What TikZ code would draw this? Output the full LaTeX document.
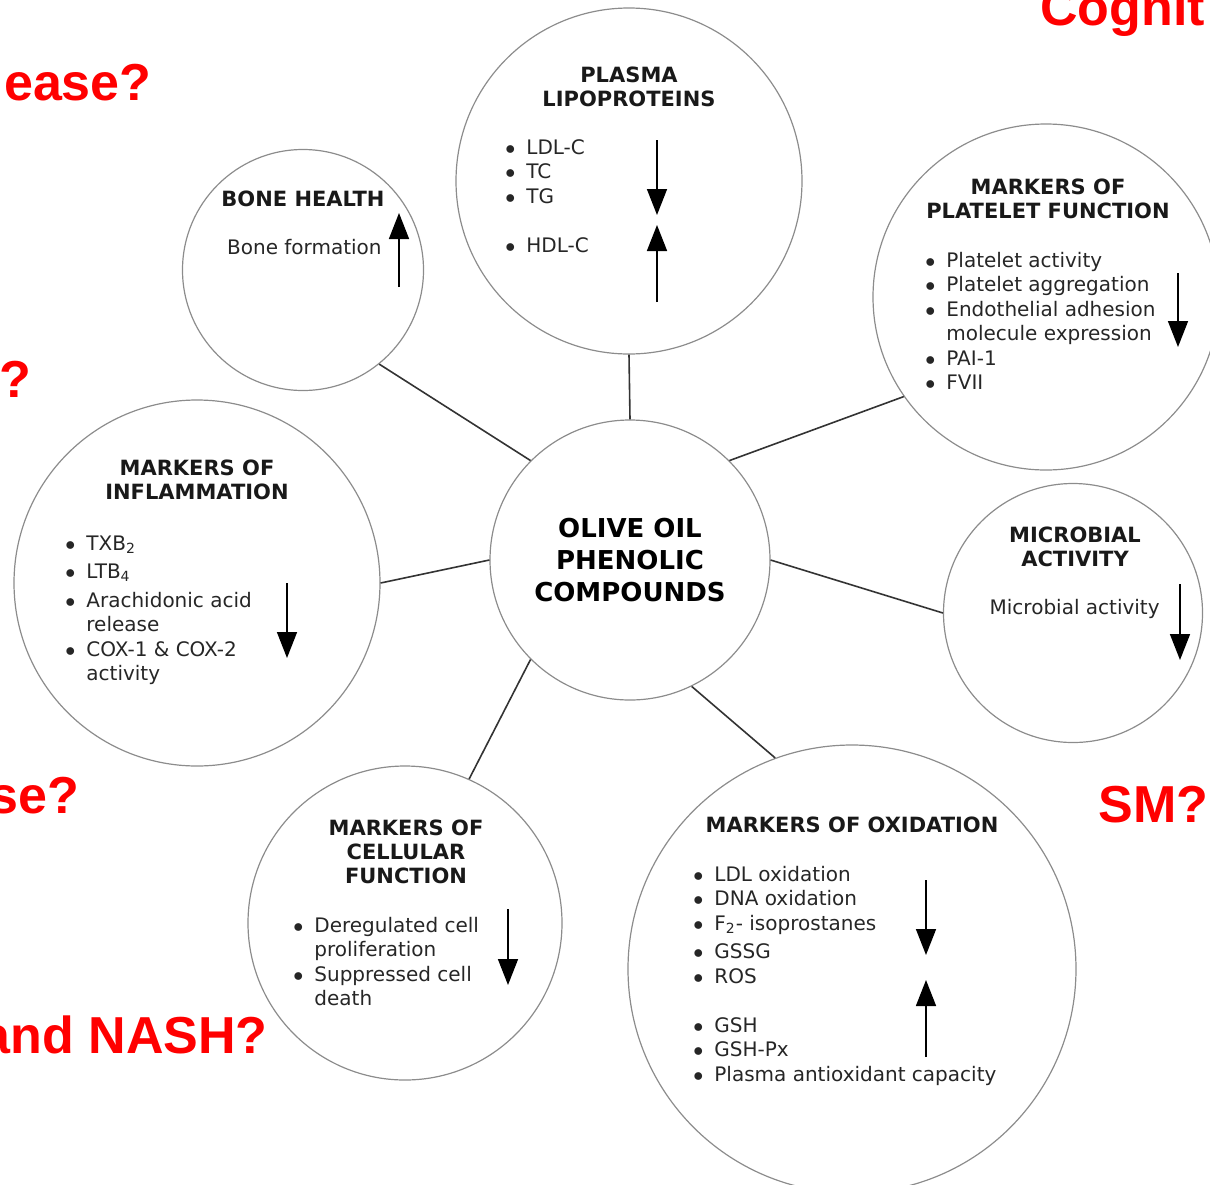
\documentclass[tikz,border=0pt]{standalone}
\usepackage{fontspec}
\setmainfont{DejaVu Sans}
\newfontfamily\alertfont{Liberation Sans}
\usetikzlibrary{arrows.meta}
\tikzset{
    bubble/.style={circle, draw=black!45, line width=0.6pt, inner sep=0pt},
    link/.style={draw=black!80, line width=0.8pt},
    head/.style={font=\fontsize{10.5}{12}\selectfont\bfseries, align=center, inner sep=0pt, text=black!90},
    body/.style={font=\fontsize{10}{12.25}\selectfont, inner sep=0pt, text=black!85},
    trend/.style={black, line width=0.8pt, -{Triangle[length=13pt,width=10pt]}},
    query/.style={font=\alertfont\fontsize{26}{30}\selectfont\bfseries, text=red, inner sep=0pt},
}
\newcommand{\dotitem}{$\bullet$}

\begin{document}
\begin{tikzpicture}[x=0.5pt,y=-0.5pt]
\useasboundingbox (0,0) rectangle (1210,1184);

\node[bubble, minimum size=140pt, font=\fontsize{13}{16}\selectfont\bfseries, align=center] (core) at (630,560) {OLIVE OIL\\PHENOLIC\\COMPOUNDS};
\node[bubble, minimum size=173pt] (plasma) at (629,181) {};
\node[bubble, minimum size=120.5pt] (bone) at (303,270) {};
\node[bubble, minimum size=173pt] (platelet) at (1046,297) {};
\node[bubble, minimum size=183pt] (inflam) at (197,583) {};
\node[bubble, minimum size=129.5pt] (microbial) at (1073,613) {};
\node[bubble, minimum size=157pt] (cellular) at (405,923) {};
\node[bubble, minimum size=224pt] (oxidation) at (852,969) {};

\draw[link] (core.135) -- (bone.309);
\draw[link] (core.90) -- (plasma.270);
\draw[link] (core.45) -- (platelet.215);
\draw[link] (core.180) -- (inflam.0);
\draw[link] (core.0) -- (microbial.180);
\draw[link] (core.225) -- (cellular.66);
\draw[link] (core.296) -- (oxidation.110);

\node[head, anchor=north] (plasmahead) at (629,67) {PLASMA\\LIPOPROTEINS};
\node[body, anchor=base west] (plasmalist) at (505,154) {\begin{tabular}[t]{@{}l@{\hspace{5.5pt}}l@{}}\dotitem & LDL-C\\ \dotitem & TC\\ \dotitem & TG\\[12.25pt] \dotitem & HDL-C\end{tabular}};
\draw[trend] (657,140) -- (657,215);
\draw[trend] (657,302) -- (657,225);

\node[head, anchor=north] (bonehead) at (303,191) {BONE HEALTH};
\node[body, anchor=base east] (bonetext) at (382,254) {Bone formation};
\draw[trend] (399,287) -- (399,213);

\node[head, anchor=north] (platehead) at (1048,179) {MARKERS OF\\PLATELET FUNCTION};
\node[body, anchor=base west] (platelist) at (925,267) {\begin{tabular}[t]{@{}l@{\hspace{5.5pt}}l@{}}\dotitem & Platelet activity\\ \dotitem & Platelet aggregation\\ \dotitem & Endothelial adhesion\\ & molecule expression\\ \dotitem & PAI-1\\ \dotitem & FVII\end{tabular}};
\draw[trend] (1178,273) -- (1178,347);

\node[head, anchor=north] (inflamhead) at (197,460) {MARKERS OF\\INFLAMMATION};
\node[body, anchor=base west] (inflamlist) at (65,550) {\begin{tabular}[t]{@{}l@{\hspace{5.5pt}}l@{}}\dotitem & TXB\textsubscript{2}\\[2pt] \dotitem & LTB\textsubscript{4}\\[2pt] \dotitem & Arachidonic acid\\ & release\\ \dotitem & COX-1 \& COX-2\\ & activity\end{tabular}};
\draw[trend] (287,583) -- (287,658);

\node[head, anchor=north] (microhead) at (1075,527) {MICROBIAL\\ACTIVITY};
\node[body, anchor=base east] (microtext) at (1160,614) {Microbial activity};
\draw[trend] (1180,584) -- (1180,660);

\node[head, anchor=north] (cellhead) at (406,819) {MARKERS OF\\CELLULAR\\FUNCTION};
\node[body, anchor=base west] (celllist) at (293,932) {\begin{tabular}[t]{@{}l@{\hspace{5.5pt}}l@{}}\dotitem & Deregulated cell\\ & proliferation\\ \dotitem & Suppressed cell\\ & death\end{tabular}};
\draw[trend] (508,909) -- (508,985);

\node[head, anchor=north] (oxhead) at (852,817) {MARKERS OF OXIDATION};
\node[body, anchor=base west] (oxlist) at (693,881) {\begin{tabular}[t]{@{}l@{\hspace{5.5pt}}l@{}}\dotitem & LDL oxidation\\ \dotitem & DNA oxidation\\ \dotitem & F\textsubscript{2}- isoprostanes\\[2pt] \dotitem & GSSG\\ \dotitem & ROS\\[12.25pt] \dotitem & GSH\\ \dotitem & GSH-Px\\ \dotitem & Plasma antioxidant capacity\end{tabular}};
\draw[trend] (926,880) -- (926,955);
\draw[trend] (926,1057) -- (926,980);

\node[query, anchor=base west] (cognit) at (1040,25) {Cognit};
\node[query, anchor=base east] (disease) at (152,100) {ease?};
\node[query, anchor=base east] (qmark) at (32,397) {?};
\node[query, anchor=base east] (diseasetwo) at (80,813) {se?};
\node[query, anchor=base west] (sm) at (1098,822) {SM?};
\node[query, anchor=base east] (nash) at (268,1053) {and NASH?};
\end{tikzpicture}
\end{document}
